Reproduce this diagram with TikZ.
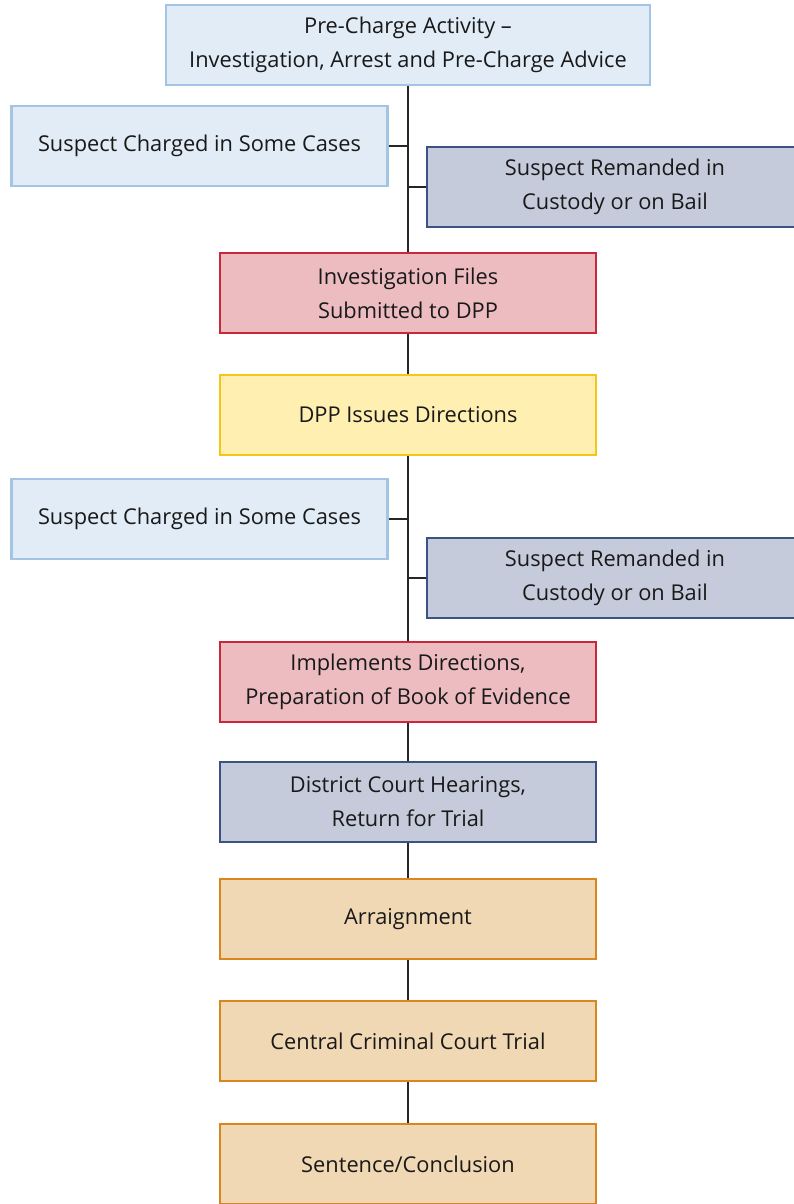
\documentclass[tikz,border=0pt]{standalone}
\usepackage{fontspec}
\setmainfont{Open Sans}
\begin{document}
\begin{tikzpicture}[x=1pt,y=-1pt,
  box/.style={draw, line width=2.2pt, minimum width=376pt, minimum height=80pt, inner sep=0pt, align=center, font=\fontsize{21.8}{34}\selectfont, text=black!90},
  lblue/.style={box, fill={rgb,255:red,225;green,236;blue,246}, draw={rgb,255:red,164;green,196;blue,228}},
  slate/.style={box, fill={rgb,255:red,197;green,203;blue,218}, draw={rgb,255:red,59;green,83;blue,132}},
  redb/.style={box, fill={rgb,255:red,236;green,188;blue,192}, draw={rgb,255:red,200;green,40;blue,58}},
  yel/.style={box, fill={rgb,255:red,255;green,239;blue,176}, draw={rgb,255:red,245;green,197;blue,24}},
  tan/.style={box, fill={rgb,255:red,241;green,216;blue,180}, draw={rgb,255:red,217;green,134;blue,30}},
  conn/.style={draw=black!85, line width=1.2pt}]
\useasboundingbox (0,0) rectangle (794,1204);
\clip (0,0) rectangle (794,1204);
% main chain
\node[lblue, minimum width=484pt] (pre) at (408,45) {Pre-Charge Activity –\\Investigation, Arrest and Pre-Charge Advice};
\node[lblue] (ch1) at (199.5,146) {Suspect Charged in Some Cases};
\node[slate] (rm1) at (615,187) {Suspect Remanded in\\Custody or on Bail};
\node[redb] (inv) at (408,293) {Investigation Files\\Submitted to DPP};
\node[yel] (dpp) at (408,415) {DPP Issues Directions};
\node[lblue] (ch2) at (199.5,519) {Suspect Charged in Some Cases};
\node[slate] (rm2) at (615,578) {Suspect Remanded in\\Custody or on Bail};
\node[redb] (imp) at (408,682) {Implements Directions,\\Preparation of Book of Evidence};
\node[slate] (dis) at (408,802) {District Court Hearings,\\Return for Trial};
\node[tan] (arr) at (408,919) {Arraignment};
\node[tan] (cen) at (408,1041) {Central Criminal Court Trial};
\node[tan] (sen) at (408,1164) {Sentence/Conclusion};
% connectors
\path[conn] (pre.south) -- (inv.north);
\path[conn] (ch1.east) -- (ch1.east -| pre.south);
\path[conn] (rm1.west) -- (rm1.west -| pre.south);
\path[conn] (inv.south) -- (dpp.north);
\path[conn] (dpp.south) -- (imp.north);
\path[conn] (ch2.east) -- (ch2.east -| dpp.south);
\path[conn] (rm2.west) -- (rm2.west -| dpp.south);
\path[conn] (imp.south) -- (dis.north);
\path[conn] (dis.south) -- (arr.north);
\path[conn] (arr.south) -- (cen.north);
\path[conn] (cen.south) -- (sen.north);
\end{tikzpicture}
\end{document}
